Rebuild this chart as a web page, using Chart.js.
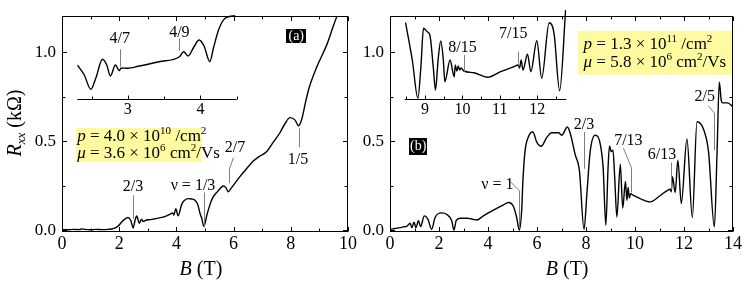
<!DOCTYPE html>
<html>
<head>
<meta charset="utf-8">
<script src="https://cdn.jsdelivr.net/npm/chart.js@4.4.1/dist/chart.umd.min.js"></script>
<style>
  body { margin: 0; background: #fff; }
  #wrap { position: relative; width: 748px; height: 287px; overflow: hidden; }
  canvas { position: absolute; }
</style>
</head>
<body>
<div id="wrap">
  <canvas id="mainA" width="360" height="287" style="left:0;top:0;width:360px;height:287px"></canvas>
  <canvas id="mainB" width="392" height="287" style="left:356px;top:0;width:392px;height:287px"></canvas>
  <canvas id="insetA" width="190" height="125" style="left:60px;top:0;width:190px;height:125px"></canvas>
  <canvas id="insetB" width="185" height="125" style="left:395px;top:0;width:185px;height:125px"></canvas>
</div>
<script>
const serif = '"Liberation Serif", "Times New Roman", serif';

// panel (a): B (T) and Rxx (kOhm)
const fieldA = [0, 0.2, 0.4, 0.6, 0.7, 0.8, 1.0, 1.2, 1.4, 1.6, 1.79, 1.95, 2.13, 2.31, 2.41, 2.49, 2.55, 2.61, 2.65, 2.70,
  2.78, 2.83, 2.88, 2.96, 3.1, 3.25, 3.45, 3.66, 3.77, 3.87, 3.91, 3.98, 4.06, 4.18, 4.26, 4.41, 4.54, 4.65, 4.75, 4.82,
  4.89, 4.96, 5.0, 5.06, 5.17, 5.28, 5.41, 5.52, 5.64, 5.73, 5.81, 5.93, 6.22, 6.45, 6.69, 6.9, 7.16, 7.39, 7.62, 7.80,
  7.97, 8.15, 8.27, 8.39, 8.51, 8.63, 8.91, 9.26, 9.49, 9.61, 9.7];
const rxxA = [0.003, 0.002, 0.004, 0.003, 0.007, 0.004, 0.002, 0.004, 0.003, 0.004, 0.008, 0.021, 0.053, 0.071, 0.053, 0.012, 0.053, 0.080, 0.064, 0.039,
  0.062, 0.048, 0.051, 0.057, 0.059, 0.064, 0.070, 0.080, 0.088, 0.097, 0.085, 0.120, 0.080, 0.142, 0.164, 0.177, 0.175, 0.168, 0.143, 0.097,
  0.064, 0.021, 0.037, 0.080, 0.142, 0.186, 0.212, 0.233, 0.248, 0.239, 0.216, 0.239, 0.301, 0.345, 0.389, 0.415, 0.442, 0.495, 0.548, 0.600,
  0.633, 0.619, 0.587, 0.628, 0.716, 0.796, 0.919, 1.044, 1.150, 1.203, 1.24];

// panel (b)
const fieldB = [0, 0.2, 0.41, 0.55, 0.68, 0.75, 0.82, 0.89, 0.98, 1.06, 1.16, 1.25, 1.40, 1.55, 1.70, 1.84, 2.11, 2.32, 2.52, 2.61,
  2.70, 2.86, 3.13, 3.3, 3.54, 3.81, 4.22, 4.63, 4.83, 5.04, 5.17, 5.28, 5.38, 5.42, 5.51, 5.65, 5.83, 5.99, 6.17, 6.40,
  6.60, 6.88, 7.01, 7.24, 7.35, 7.56, 7.73, 7.92, 8.04, 8.17, 8.37, 8.58, 8.70, 8.81, 8.90, 8.96, 9.03, 9.10, 9.17, 9.26,
  9.40, 9.50, 9.61, 9.67, 9.72, 9.77, 9.82, 9.94, 10.21, 10.62, 11.03, 11.30, 11.44, 11.48, 11.53, 11.64, 11.75, 11.89, 12.12, 12.34,
  12.53, 12.80, 13.00, 13.24, 13.35, 13.44, 13.52, 13.57, 13.78, 14.0];
const rxxB = [0.004, 0.009, 0.014, 0.018, 0.021, 0.030, 0.039, 0.014, 0.044, 0.014, 0.053, 0.020, 0.080, 0.060, 0.004, 0.071, 0.097, 0.088, 0.053, 0.0,
  0.053, 0.067, 0.067, 0.064, 0.057, 0.080, 0.112, 0.142, 0.155, 0.133, 0.071, 0.0, 0.124, 0.265, 0.442, 0.525, 0.552, 0.495, 0.472, 0.522,
  0.548, 0.548, 0.534, 0.580, 0.548, 0.424, 0.336, 0.004, 0.212, 0.442, 0.534, 0.486, 0.350, 0.027, 0.350, 0.474, 0.442, 0.450, 0.300, 0.074,
  0.371, 0.124, 0.274, 0.168, 0.240, 0.180, 0.205, 0.195, 0.177, 0.159, 0.195, 0.221, 0.230, 0.215, 0.301, 0.212, 0.393, 0.150, 0.513, 0.071,
  0.610, 0.566, 0.442, 0.018, 0.442, 0.834, 0.730, 0.716, 0.716, 0.693];

// insets (arbitrary units)
const insetFieldA = [2.304, 2.40, 2.49, 2.56, 2.65, 2.71, 2.76, 2.83, 2.88, 2.91, 2.98, 3.16, 3.43, 3.71, 3.77, 3.83, 3.91, 3.98, 4.05, 4.13, 4.18, 4.25, 4.34, 4.48];
const insetSignalA = [34, 24, 9.7, 21, 39.7, 34, 23, 34, 28.3, 31, 30.7, 33, 37.3, 42.3, 47.3, 43, 52, 59, 53, 37.3, 51, 69, 80.7, 83.3];
const insetFieldB = [8.48, 8.66, 8.81, 8.89, 8.96, 9.06, 9.13, 9.22, 9.28, 9.35, 9.42, 9.49, 9.53, 9.67, 9.78, 9.81, 9.85, 9.89, 9.93, 9.97,
  10.04, 10.31, 10.67, 11.02, 11.38, 11.49, 11.53, 11.57, 11.62, 11.74, 11.83, 11.99, 12.12, 12.32, 12.45, 12.60, 12.76];
const insetSignalB = [76.3, 39, 0.7, 32.3, 70.7, 67.3, 64, 32.3, 9, 39, 58, 39, 17.3, 39, 22.3, 34, 28, 33, 29, 31,
  28, 26.3, 21.7, 27.3, 32.3, 34, 31, 39, 29, 44.7, 27.3, 58.3, 20.7, 76.3, 65.7, 8.3, 89];

const ticksXA = [0, 2, 4, 6, 8, 10];
const minorXA = [1, 3, 5, 7, 9];
const ticksXB = [0, 2, 4, 6, 8, 10, 12, 14];
const minorXB = [1, 3, 5, 7, 9, 11, 13];
const ticksY = [0, 0.5, 1.0];
const minorY = [0.25, 0.75];
const ticksInsetA = [3, 4];
const minorInsetA = [2.5, 3.5, 4.5];
const ticksInsetB = [9, 10, 11, 12];
const minorInsetB = [8.5, 9.5, 10.5, 11.5, 12.5];

function pts(xs, ys) { return xs.map((x, i) => ({ x: x, y: ys[i] })); }

function richWidth(ctx, segs, size) {
  let w = 0;
  segs.forEach(s => {
    const sz = (s.sup || s.sub) ? size * 0.65 : size;
    ctx.font = (s.it ? 'italic ' : '') + sz + 'px ' + serif;
    w += ctx.measureText(s.t).width;
  });
  return w;
}
function drawRich(ctx, segs, x, y, size) {
  let cx = x;
  ctx.textAlign = 'left';
  ctx.textBaseline = 'middle';
  segs.forEach(s => {
    const sz = (s.sup || s.sub) ? size * 0.65 : size;
    ctx.font = (s.it ? 'italic ' : '') + sz + 'px ' + serif;
    const dy = s.sup ? -size * 0.32 : (s.sub ? size * 0.3 : 0);
    ctx.fillText(s.t, cx, y + dy);
    cx += ctx.measureText(s.t).width;
  });
}

// box frame + inward ticks
const frameTicks = {
  id: 'frameTicks',
  afterDatasetsDraw(chart, args, o) {
    const { ctx, chartArea: a, scales: { x, y } } = chart;
    const L = Math.round(a.left) + 0.5, R = Math.round(a.right) - 0.5;
    const T = Math.round(a.top) + 0.5, B = Math.round(a.bottom) + 0.5;
    ctx.save();
    ctx.strokeStyle = '#000';
    ctx.lineWidth = 1;
    ctx.strokeRect(L, T, R - L, B - T);
    ctx.beginPath();
    const vx = (v, len) => {
      const p = Math.round(x.getPixelForValue(v)) + 0.5;
      ctx.moveTo(p, B); ctx.lineTo(p, B - len);
      ctx.moveTo(p, T); ctx.lineTo(p, T + len);
    };
    const vy = (v, len) => {
      const p = Math.round(y.getPixelForValue(v)) + 0.5;
      ctx.moveTo(L, p); ctx.lineTo(L + len, p);
      ctx.moveTo(R, p); ctx.lineTo(R - len, p);
    };
    o.xMajor.forEach(v => vx(v, 4.5));
    o.xMinor.forEach(v => vx(v, 3));
    o.yMajor.forEach(v => vy(v, 4.5));
    o.yMinor.forEach(v => vy(v, 3));
    ctx.stroke();
    ctx.restore();
  }
};

// inset bottom axis ticks (pointing up)
const insetTicks = {
  id: 'insetTicks',
  afterDatasetsDraw(chart, args, o) {
    const { ctx, chartArea: a, scales: { x } } = chart;
    const B = Math.round(a.bottom) + 0.5;
    ctx.save();
    ctx.strokeStyle = '#000';
    ctx.lineWidth = 1;
    ctx.beginPath();
    ctx.moveTo(a.left, B); ctx.lineTo(a.right, B);
    o.major.forEach(v => { const p = Math.round(x.getPixelForValue(v)) + 0.5; ctx.moveTo(p, B); ctx.lineTo(p, B - 4); });
    o.minor.forEach(v => { const p = Math.round(x.getPixelForValue(v)) + 0.5; ctx.moveTo(p, B); ctx.lineTo(p, B - 3); });
    ctx.stroke();
    ctx.restore();
  }
};

// text labels, leader lines, boxes (all placed in data coordinates)
const notes = {
  id: 'notes',
  afterDatasetsDraw(chart, args, o) {
    const { ctx, scales: { x, y } } = chart;
    const X = v => x.getPixelForValue(v), Y = v => y.getPixelForValue(v);
    ctx.save();
    (o.fills || []).forEach(f => {
      ctx.fillStyle = f.color;
      const l = Math.round(X(f.x0)), t = Math.round(Y(f.y0));
      ctx.fillRect(l, t, Math.round(X(f.x1)) - l, Math.round(Y(f.y1)) - t);
    });
    ctx.strokeStyle = '#7f7f7f';
    ctx.lineWidth = 1;
    (o.leaders || []).forEach(ld => {
      ctx.beginPath();
      ld.forEach((p, i) => {
        const px = Math.round(X(p[0])) + 0.5, py = Y(p[1]);
        if (i === 0) ctx.moveTo(px, py); else ctx.lineTo(px, py);
      });
      ctx.stroke();
    });
    (o.texts || []).forEach(t => {
      ctx.fillStyle = t.color || '#000';
      const w = richWidth(ctx, t.segs, t.size);
      const px = t.align === 'left' ? X(t.x) : X(t.x) - w / 2;
      drawRich(ctx, t.segs, px, Y(t.y), t.size);
    });
    ctx.restore();
  }
};

// axis titles drawn on the canvas
const titles = {
  id: 'titles',
  afterDraw(chart, args, o) {
    const { ctx, chartArea: a, scales: { x } } = chart;
    ctx.save();
    ctx.fillStyle = '#000';
    const bSegs = [{ t: 'B', it: true }, { t: ' (T)' }];
    const bw = richWidth(ctx, bSegs, 20);
    drawRich(ctx, bSegs, x.getPixelForValue(o.bAt) - bw / 2, 270, 20);
    if (o.yTitle) {
      const segs = [{ t: 'R', it: true }, { t: 'xx', it: true, sub: true }, { t: ' (kΩ)' }];
      const w = richWidth(ctx, segs, 20);
      ctx.translate(16, 123);
      ctx.rotate(-Math.PI / 2);
      drawRich(ctx, segs, -w / 2, 0, 20);
    }
    ctx.restore();
  }
};

function mainOptions(xmax, xt, yWidth, padRight) {
  return {
    responsive: false,
    animation: false,
    devicePixelRatio: 1,
    layout: { padding: { top: 3, right: padRight, left: 0, bottom: 0 } },
    plugins: { legend: { display: false }, tooltip: { enabled: false } },
    scales: {
      x: {
        type: 'linear', min: 0, max: xmax,
        grid: { display: false, drawTicks: false }, border: { display: false },
        afterBuildTicks: s => { s.ticks = xt.map(v => ({ value: v })); },
        afterFit: s => { s.height = 56; },
        ticks: { font: { family: serif, size: 18 }, color: '#000', padding: 2, maxRotation: 0, autoSkip: false, callback: v => String(v) }
      },
      y: {
        type: 'linear', min: -0.005, max: 1.204,
        grid: { display: false, drawTicks: false }, border: { display: false },
        afterBuildTicks: s => { s.ticks = ticksY.map(v => ({ value: v })); },
        afterFit: s => { s.width = yWidth; },
        ticks: { font: { family: serif, size: 17 }, color: '#000', padding: 6, autoSkip: false, callback: v => v.toFixed(1) }
      }
    }
  };
}

function insetOptions(xmin, xmax, xt, padLeft, padRight) {
  return {
    responsive: false,
    animation: false,
    devicePixelRatio: 1,
    layout: { padding: { top: 9, right: padRight, left: padLeft, bottom: 0 } },
    plugins: { legend: { display: false }, tooltip: { enabled: false } },
    scales: {
      x: {
        type: 'linear', min: xmin, max: xmax,
        grid: { display: false, drawTicks: false }, border: { display: false },
        afterBuildTicks: s => { s.ticks = xt.map(v => ({ value: v })); },
        afterFit: s => { s.height = 26; },
        ticks: { font: { family: serif, size: 16 }, color: '#000', padding: 1, maxRotation: 0, autoSkip: false, callback: v => String(v) }
      },
      y: { display: false, min: 0, max: 90 }
    }
  };
}

const lineStyle = { borderColor: '#000', borderWidth: 1.4, pointRadius: 0, cubicInterpolationMode: 'monotone', fill: false };

// panel (a)
const optA = mainOptions(10, ticksXA, 62, 12);
optA.plugins.frameTicks = { xMajor: ticksXA, xMinor: minorXA, yMajor: ticksY, yMinor: minorY };
optA.plugins.titles = { bAt: 4.86, yTitle: true };
optA.plugins.notes = {
  fills: [
    { x0: 0.48, y0: 0.573, x1: 4.88, y1: 0.385, color: '#fdfa9f' },
    { x0: 7.84, y0: 1.132, x1: 8.54, y1: 1.052, color: '#000' }
  ],
  leaders: [
    [[2.48, 0.196], [2.48, 0.064]],
    [[4.96, 0.212], [4.96, 0.016]],
    [[5.98, 0.408], [5.83, 0.345], [5.83, 0.265]],
    [[8.27, 0.573], [8.27, 0.467]]
  ],
  texts: [
    { x: 8.19, y: 1.092, size: 14, color: '#fff', segs: [{ t: '(a)' }] },
    { x: 0.53, y: 0.526, size: 17, align: 'left', segs: [{ t: 'p', it: true }, { t: ' = 4.0 × 10' }, { t: '10', sup: true }, { t: ' /cm' }, { t: '2', sup: true }] },
    { x: 0.53, y: 0.432, size: 17, align: 'left', segs: [{ t: 'μ', it: true }, { t: ' = 3.6 × 10' }, { t: '6', sup: true }, { t: ' cm' }, { t: '2', sup: true }, { t: '/Vs' }] },
    { x: 2.48, y: 0.244, size: 16, segs: [{ t: '2/3' }] },
    { x: 4.58, y: 0.249, size: 16, segs: [{ t: 'ν = 1/3' }] },
    { x: 6.05, y: 0.462, size: 16, segs: [{ t: '2/7' }] },
    { x: 8.25, y: 0.398, size: 16, segs: [{ t: '1/5' }] }
  ]
};
new Chart(document.getElementById('mainA'), {
  type: 'line',
  data: { datasets: [Object.assign({ data: pts(fieldA, rxxA) }, lineStyle)] },
  options: optA,
  plugins: [frameTicks, notes, titles]
});

// panel (b)
const optB = mainOptions(14, ticksXB, 34, 15);
optB.plugins.frameTicks = { xMajor: ticksXB, xMinor: minorXB, yMajor: ticksY, yMinor: minorY };
optB.plugins.titles = { bAt: 7.23, yTitle: false };
optB.plugins.notes = {
  fills: [
    { x0: 7.68, y0: 1.118, x1: 13.94, y1: 0.875, color: '#fdfa9f' },
    { x0: 0.78, y0: 0.521, x1: 1.52, y1: 0.424, color: '#000' }
  ],
  leaders: [
    [[4.83, 0.283], [5.28, 0.221], [5.28, 0.011]],
    [[7.92, 0.552], [7.92, 0.345]],
    [[9.53, 0.460], [9.83, 0.350], [9.83, 0.212]],
    [[11.48, 0.380], [11.48, 0.230]],
    [[12.96, 0.699], [13.24, 0.658], [13.24, 0.451]]
  ],
  texts: [
    { x: 1.15, y: 0.472, size: 14, color: '#fff', segs: [{ t: '(b)' }] },
    { x: 7.90, y: 1.044, size: 17, align: 'left', segs: [{ t: 'p', it: true }, { t: ' = 1.3 × 10' }, { t: '11', sup: true }, { t: ' /cm' }, { t: '2', sup: true }] },
    { x: 7.90, y: 0.944, size: 17, align: 'left', segs: [{ t: 'μ', it: true }, { t: ' = 5.8 × 10' }, { t: '6', sup: true }, { t: ' cm' }, { t: '2', sup: true }, { t: '/Vs' }] },
    { x: 4.38, y: 0.256, size: 16, segs: [{ t: 'ν = 1' }] },
    { x: 7.92, y: 0.593, size: 16, segs: [{ t: '2/3' }] },
    { x: 9.73, y: 0.504, size: 16, segs: [{ t: '7/13' }] },
    { x: 11.10, y: 0.424, size: 16, segs: [{ t: '6/13' }] },
    { x: 12.85, y: 0.752, size: 16, segs: [{ t: '2/5' }] }
  ]
};
new Chart(document.getElementById('mainB'), {
  type: 'line',
  data: { datasets: [Object.assign({ data: pts(fieldB, rxxB) }, lineStyle)] },
  options: optB,
  plugins: [frameTicks, notes, titles]
});

// inset (a)
const optIA = insetOptions(2.304, 4.5, ticksInsetA, 17.3, 13.3);
optIA.plugins.insetTicks = { major: ticksInsetA, minor: minorInsetA };
optIA.plugins.notes = {
  leaders: [[[2.89, 49.7], [2.89, 32.3]], [[3.71, 60.7], [3.71, 48.3]]],
  texts: [
    { x: 2.89, y: 60, size: 16, segs: [{ t: '4/7' }] },
    { x: 3.71, y: 66, size: 16, segs: [{ t: '4/9' }] }
  ]
};
new Chart(document.getElementById('insetA'), {
  type: 'line',
  data: { datasets: [Object.assign({ data: pts(insetFieldA, insetSignalA) }, lineStyle)] },
  options: optIA,
  plugins: [insetTicks, notes]
});

// inset (b)
const optIB = insetOptions(8.457, 12.778, ticksInsetB, 9.7, 13.7);
optIB.plugins.insetTicks = { major: ticksInsetB, minor: minorInsetB };
optIB.plugins.notes = {
  leaders: [[[10.03, 44], [10.03, 27.3]], [[11.49, 47.3], [11.49, 35.7]]],
  texts: [
    { x: 10.0, y: 51.5, size: 16, segs: [{ t: '8/15' }] },
    { x: 11.36, y: 65.7, size: 16, segs: [{ t: '7/15' }] }
  ]
};
new Chart(document.getElementById('insetB'), {
  type: 'line',
  data: { datasets: [Object.assign({ data: pts(insetFieldB, insetSignalB) }, lineStyle)] },
  options: optIB,
  plugins: [insetTicks, notes]
});
</script>
</body>
</html>
